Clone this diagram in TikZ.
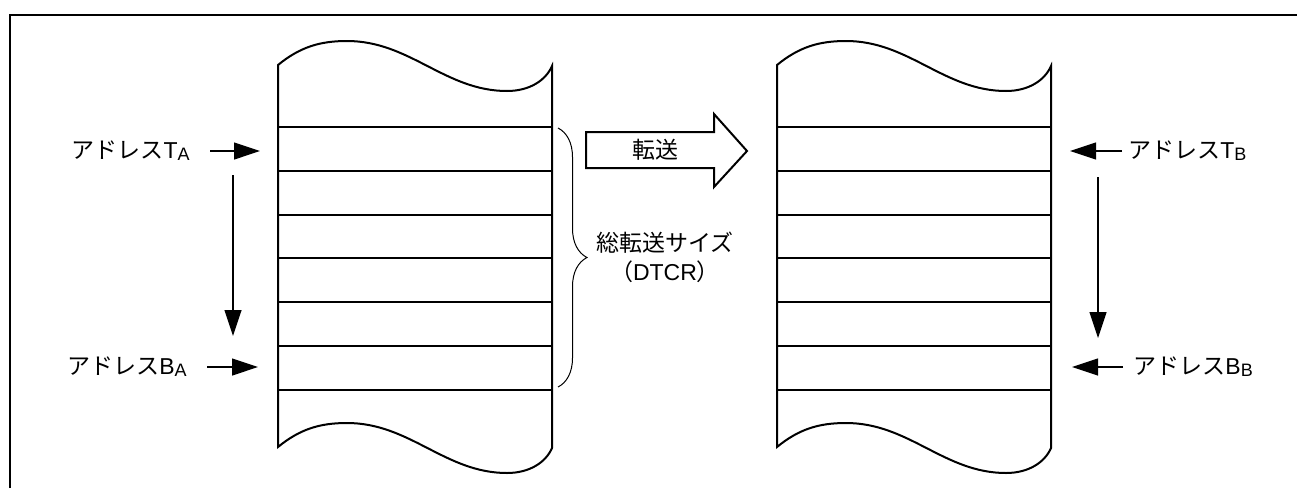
\documentclass[tikz,border=0pt]{standalone}
\usepackage{fontspec}
\setmainfont{Liberation Sans}
\newfontfamily\jpfont{Noto Sans CJK JP}
\usepackage{tikz}
\usetikzlibrary{arrows.meta,decorations.pathreplacing}
\newcommand\subidx[1]{\raisebox{-0.15ex}{\fontsize{9}{9}\selectfont #1}}

\begin{document}
\begin{tikzpicture}[x=0.5pt,y=-0.5pt]
    \tikzset{every node/.style={font=\fontsize{11.5}{14.5}\selectfont}}
    \tikzset{mem/.style={line width=1pt}}
    \tikzset{addr/.style={line width=0.6pt,-{Triangle[length=13pt,width=8.5pt]}}}
    \tikzset{lbl/.style={inner ysep=0pt}}
    \useasboundingbox (0,0) rectangle (1297,488);
    % frame
    \draw[line width=1pt] (10,488) -- (10,15) -- (1297,15);
    % memory blocks
    \foreach \dx in {0,499} {
      \begin{scope}[shift={(\dx,0)}]
        \draw[mem] (278,65) .. controls (300,47) and (320,41) .. (347,41)
          .. controls (410,41) and (445,91) .. (507,91)
          .. controls (530,91) and (546,80) .. (552,66) -- (552,448)
          .. controls (546,462) and (530,473) .. (507,473)
          .. controls (445,473) and (410,423) .. (347,423)
          .. controls (320,423) and (300,429) .. (278,447) -- cycle;
        \foreach \i in {0,...,6}
          \draw[mem] (278,{127+43.83*\i}) -- (552,{127+43.83*\i});
      \end{scope}
    }
    % source addresses
    \node[lbl, anchor=east, inner xsep=10pt] (TA) at (210,151) {{\jpfont アドレス}T\subidx{A}};
    \node[lbl, anchor=east, inner xsep=10pt] (BA) at (207,367) {{\jpfont アドレス}B\subidx{A}};
    \coordinate (TAtip) at (260,151);
    \coordinate (BAtip) at (258,367);
    \draw[addr] (TA.east) -- (TAtip);
    \draw[addr] (BA.east) -- (BAtip);
    \coordinate (Astart) at (233,175);
    \coordinate (Aend) at (233,336);
    \draw[addr] (Astart) -- (Aend);
    % destination addresses
    \node[lbl, anchor=west, inner xsep=3pt] (TB) at (1122,151) {{\jpfont アドレス}T\subidx{B}};
    \node[lbl, anchor=west, inner xsep=5pt] (BB) at (1123,367) {{\jpfont アドレス}B\subidx{B}};
    \coordinate (TBtip) at (1070,151);
    \coordinate (BBtip) at (1072,367);
    \draw[addr] (TB.west) -- (TBtip);
    \draw[addr] (BB.west) -- (BBtip);
    \coordinate (Bstart) at (1098,177);
    \coordinate (Bend) at (1098,338);
    \draw[addr] (Bstart) -- (Bend);
    % transfer arrow
    \draw[line width=1pt] (586,132) -- (714,132) -- (714,114) -- (747,151)
      -- (714,187) -- (714,168) -- (586,168) -- cycle;
    \node (xfer) at (655,150) {\jpfont 転送};
    % total size
    \draw[line width=0.5pt, decorate, decoration={brace, amplitude=14.5pt}] (558,128) -- (558,387);
    \node[align=center] (total) at (665,257) {{\jpfont 総転送サイズ}\\{\jpfont （}DTCR{\jpfont ）}};
\end{tikzpicture}
\end{document}
